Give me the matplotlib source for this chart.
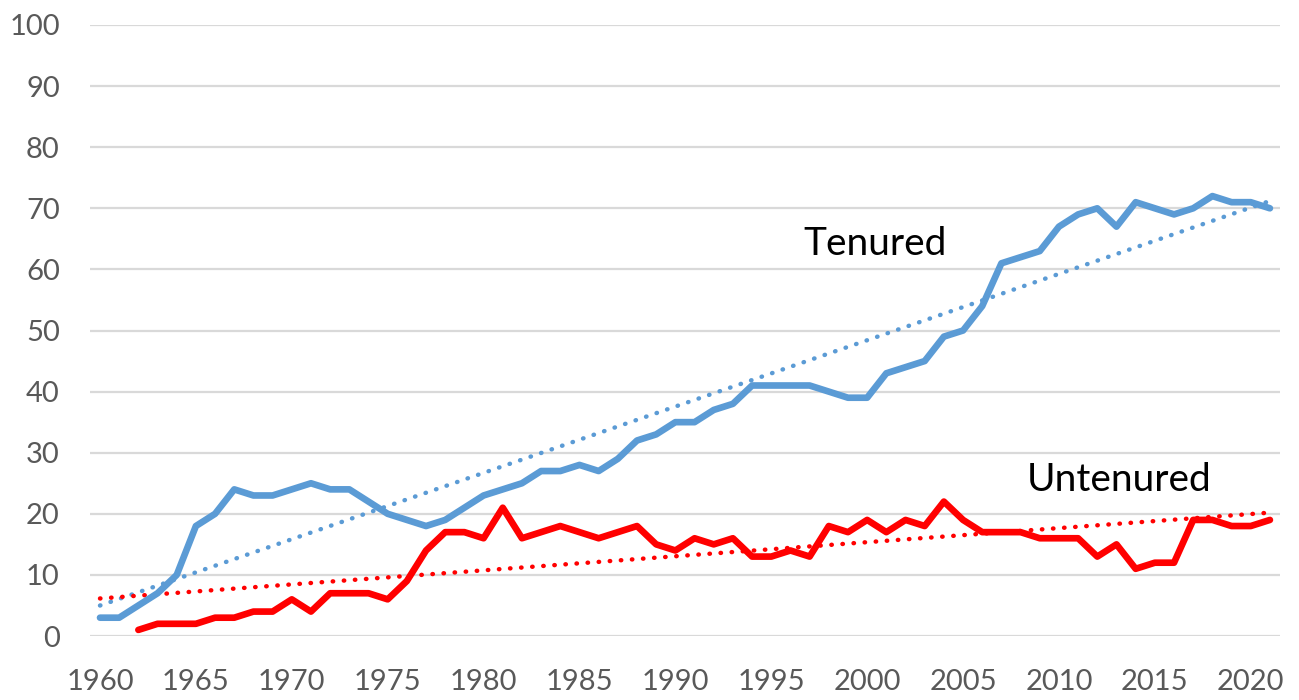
import numpy as np
import matplotlib
matplotlib.use("Agg")
import matplotlib.pyplot as plt

# values
years = np.arange(1960, 2022)

tenured = [3, 3, 5, 7, 10, 18, 20, 24, 23, 23,
           24, 25, 24, 24, 22, 20, 19, 18, 19, 21,
           23, 24, 25, 27, 27, 28, 27, 29, 32, 33,
           35, 35, 37, 38, 41, 41, 41, 41, 40, 39,
           39, 43, 44, 45, 49, 50, 54, 61, 62, 63,
           67, 69, 70, 67, 71, 70, 69, 70, 72, 71,
           71, 70]

# no data before 1962
untenured_years = np.arange(1962, 2022)
untenured = [1, 2, 2, 2, 3, 3, 4, 4,
             6, 4, 7, 7, 7, 6, 9, 14, 17, 17,
             16, 21, 16, 17, 18, 17, 16, 17, 18, 15,
             14, 16, 15, 16, 13, 13, 14, 13, 18, 17,
             19, 17, 19, 18, 22, 19, 17, 17, 17, 16,
             16, 16, 13, 15, 11, 12, 12, 19, 19, 18,
             18, 19]

y_ticks = np.arange(0, 101, 10)
x_ticks = np.arange(1960, 2021, 5)

blue = "#5B9BD5"
red = "#FF0000"
grid_color = "#D9D9D9"
label_color = "#595959"

plt.rcParams['font.family'] = ['Lato', 'DejaVu Sans']

fig = plt.figure(figsize=(12.99, 7.0), dpi=100)
ax = fig.add_axes([0.0696, 0.0914, 0.9154, 0.8729])

# horizontal gridlines
for v in y_ticks:
    ax.axhline(v, color=grid_color, lw=1.6, zorder=0)

# linear trend lines (dotted)
dots = dict(linestyle=(0, (0.1, 2.4)), dash_capstyle='round', lw=3.2)
k, b = np.polyfit(years, tenured, 1)
ax.plot(years, k * years + b, color=blue, zorder=2, **dots)
k, b = np.polyfit(untenured_years, untenured, 1)
ax.plot(years, k * years + b, color=red, zorder=2, **dots)

# data lines
ax.plot(years, tenured, color=blue, lw=4.8, solid_joinstyle='round',
        solid_capstyle='round', zorder=3)
ax.plot(untenured_years, untenured, color=red, lw=4.8, solid_joinstyle='round',
        solid_capstyle='round', zorder=3)

ax.text(1996.65, 64.2, "Tenured", fontsize=28, va='center', ha='left')
ax.text(2008.3, 25.5, "Untenured", fontsize=28, va='center', ha='left')

ax.set_xlim(1959.5, 2021.5)
ax.set_ylim(0, 100)
ax.set_yticks(y_ticks)
ax.set_xticks(x_ticks)
ax.tick_params(axis='both', length=0, labelsize=21, labelcolor=label_color)
ax.tick_params(axis='y', pad=22)
ax.tick_params(axis='x', pad=24)
for s in ax.spines.values():
    s.set_visible(False)

fig.savefig("out.png", dpi=100)
